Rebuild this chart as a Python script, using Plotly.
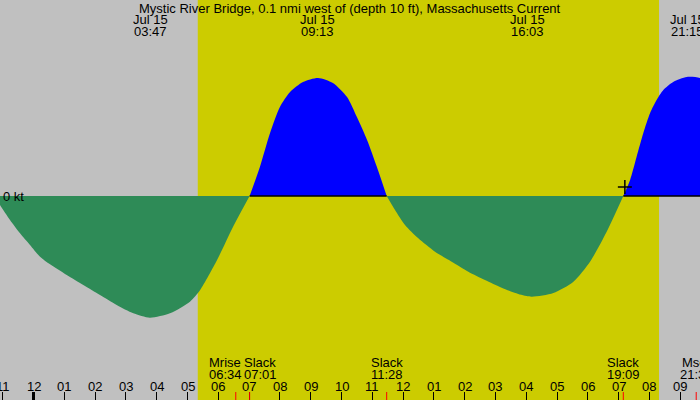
import plotly.graph_objects as go

# ---------------- data (time = hours since midnight, Jul 15; value = knots) ----------------
title = "Mystic River Bridge, 0.1 nmi west of (depth 10 ft), Massachusetts Current"

ebb1_t = [-1.283, -1.088, -0.763, -0.438, -0.114, 0.211, 0.536, 1.078, 1.617, 2.159, 2.701,
          3.24, 3.78, 4.43, 5.08, 5.41, 5.96, 6.48, 7.017]
ebb1_v = [0, -0.09, -0.24, -0.373, -0.49, -0.607, -0.683, -0.79, -0.89, -0.99, -1.09,
          -1.173, -1.217, -1.173, -1.057, -0.94, -0.64, -0.307, 0]

flood1_t = [7.017, 7.35, 7.68, 8.0, 8.33, 8.75, 9.24, 9.72, 10.18, 10.5, 10.83, 11.15, 11.467]
flood1_v = [0, 0.29, 0.63, 0.89, 1.04, 1.14, 1.18, 1.13, 0.99, 0.79, 0.56, 0.29, 0]

ebb2_t = [11.467, 11.737, 12.062, 12.494, 13.036, 13.578, 14.117, 14.659, 15.2, 15.74, 16.175,
          16.88, 17.53, 18.07, 18.61, 19.15]
ebb2_v = [0, -0.14, -0.29, -0.423, -0.557, -0.657, -0.757, -0.84, -0.917, -0.98, -1.007,
          -0.97, -0.857, -0.657, -0.357, 0]

flood2_t = [19.15, 19.37, 19.58, 19.8, 20.02, 20.23, 20.45, 20.77, 21.21, 21.64, 22.0]
flood2_v = [0, 0.16, 0.39, 0.63, 0.83, 0.96, 1.06, 1.14, 1.19, 1.18, 1.12]

hour_ticks = [-1, 0, 1, 2, 3, 4, 5, 6, 7, 8, 9, 10, 11, 12, 13, 14, 15, 16, 17, 18, 19, 20, 21]
hour_labels = ["11", "12", "01", "02", "03", "04", "05", "06", "07", "08", "09", "10", "11",
               "12", "01", "02", "03", "04", "05", "06", "07", "08", "09"]

event_names = ["Slack", "Mrise", "Slack", "Slack", "Slack", "Mset"]
event_times = [-1.283, 6.567, 7.017, 11.467, 19.15, 21.517]
event_labels = ["22:43", "06:34", "07:01", "11:28", "19:09", "21:31"]

max_times = [3.783, 9.217, 16.05, 21.25]
max_dates = ["Jul 15", "Jul 15", "Jul 15", "Jul 15"]
max_labels = ["03:47", "09:13", "16:03", "21:15"]

sunrise = 5.333
sunset = 20.31

now_mark_t = [19.2]
now_mark_v = [0.09]

# ---------------- styling ----------------
W, H = 700, 400
XR = [-1.088, 21.64]
YR = [-2.04, 1.96]
GREY = "#C0C0C0"
YELLOW = "#CCCC00"
BLUE = "#0000FF"
GREEN = "#2E8B57"
FONT = dict(family="Liberation Sans, Arial, sans-serif", size=13, color="black")

fig = go.Figure()

for t, v in [(ebb1_t, ebb1_v), (ebb2_t, ebb2_v)]:
    fig.add_trace(go.Scatter(x=t, y=v, mode="lines", fill="tozeroy", fillcolor=GREEN,
                             line=dict(width=0, color=GREEN, shape="spline", smoothing=0.7),
                             hoverinfo="skip", showlegend=False))
for t, v in [(flood1_t, flood1_v), (flood2_t, flood2_v)]:
    fig.add_trace(go.Scatter(x=t, y=v, mode="lines", fill="tozeroy", fillcolor=BLUE,
                             line=dict(width=0, color=BLUE, shape="spline", smoothing=0.7),
                             hoverinfo="skip", showlegend=False))

# black base line under flood lobes
bx, by = [], []
for t in (flood1_t, flood2_t):
    bx += [t[0], t[-1], None]
    by += [0, 0, None]
fig.add_trace(go.Scatter(x=bx, y=by, mode="lines", line=dict(color="black", width=1.5),
                         hoverinfo="skip", showlegend=False))

fig.add_trace(go.Scatter(x=now_mark_t, y=now_mark_v, mode="markers",
                         marker=dict(symbol="cross-thin", size=10, line=dict(color="black", width=1.5)),
                         hoverinfo="skip", showlegend=False))

shapes = [dict(type="rect", xref="x", yref="paper", x0=sunrise, x1=sunset, y0=0, y1=1,
               fillcolor=YELLOW, line=dict(width=0), layer="below")]
tick_h = 8 / H
for h in hour_ticks:
    if h % 24 == 0:
        shapes.append(dict(type="line", xref="x", yref="paper", x0=h, x1=h, y0=0, y1=tick_h,
                           line=dict(color="black", width=3)))
for t in event_times:
    shapes.append(dict(type="line", xref="x", yref="paper", x0=t, x1=t, y0=0, y1=tick_h,
                       line=dict(color="red", width=1)))

def yp(px):
    return 1 - px / H

ann = [dict(text=title, x=0.5, xref="paper", y=yp(8), yref="paper", showarrow=False,
            xanchor="center", yanchor="middle", font=FONT)]
for t, d, l in zip(max_times, max_dates, max_labels):
    ann.append(dict(text=d, x=t, xref="x", y=yp(19.5), yref="paper", showarrow=False,
                    xanchor="center", yanchor="middle", font=FONT))
    ann.append(dict(text=l, x=t, xref="x", y=yp(31.5), yref="paper", showarrow=False,
                    xanchor="center", yanchor="middle", font=FONT))

for h, l in zip(hour_ticks, hour_labels):
    ann.append(dict(text=l, x=h, xref="x", y=yp(386), yref="paper", showarrow=False,
                    xanchor="center", yanchor="middle", font=FONT))

# push overlapping event labels apart
pxh = W / (XR[1] - XR[0])
pos = [t * pxh for t in event_times]
shift = [0.0] * len(pos)
min_sep = 35
for i in range(len(pos) - 1):
    gap = (pos[i + 1] + shift[i + 1]) - (pos[i] + shift[i])
    if gap < min_sep:
        d = (min_sep - gap) / 2
        shift[i] -= d
        shift[i + 1] += d
for t, n, l, s in zip(event_times, event_names, event_labels, shift):
    ann.append(dict(text=n, x=t, xref="x", xshift=s, y=yp(362.5), yref="paper", showarrow=False,
                    xanchor="center", yanchor="middle", font=FONT))
    ann.append(dict(text=l, x=t, xref="x", xshift=s, y=yp(374), yref="paper", showarrow=False,
                    xanchor="center", yanchor="middle", font=FONT))

ann.append(dict(text="0 kt", x=0, xref="paper", xshift=1, y=0, yref="y", showarrow=False,
                xanchor="left", yanchor="middle", font=FONT))

fig.update_layout(
    width=W, height=H, margin=dict(l=0, r=0, t=0, b=0),
    paper_bgcolor=GREY, plot_bgcolor=GREY,
    shapes=shapes, annotations=ann, showlegend=False,
    xaxis=dict(range=XR, showgrid=False, zeroline=False, showline=False,
               tickmode="array", tickvals=hour_ticks, ticks="inside", ticklen=8,
               tickwidth=1, tickcolor="black", showticklabels=False, fixedrange=True),
    yaxis=dict(range=YR, showgrid=False, zeroline=False, showline=False,
               showticklabels=False, ticks="", fixedrange=True),
)

fig.write_html("out.html", config={"displayModeBar": False})
